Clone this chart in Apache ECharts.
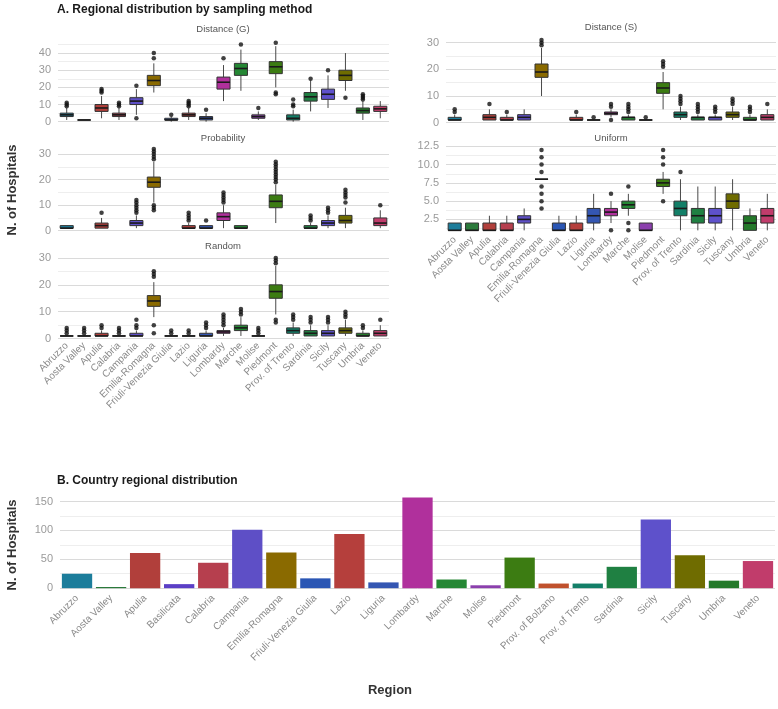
<!DOCTYPE html>
<html>
<head>
<meta charset="utf-8">
<script src="https://cdn.jsdelivr.net/npm/echarts@6/dist/echarts.min.js"></script>
<style>
html,body{margin:0;padding:0;background:#fff;}
#chart{width:778px;height:709px;}
</style>
</head>
<body>
<div id="chart"></div>
<script>
// ---------------- DATA ----------------
const regionsTop = ['Abruzzo','Aosta Valley','Apulia','Calabria','Campania','Emilia-Romagna','Friuli-Venezia Giulia','Lazio','Liguria','Lombardy','Marche','Molise','Piedmont','Prov. of Trento','Sardinia','Sicily','Tuscany','Umbria','Veneto'];
const regionsAll = ['Abruzzo','Aosta Valley','Apulia','Basilicata','Calabria','Campania','Emilia-Romagna','Friuli-Venezia Giulia','Lazio','Liguria','Lombardy','Marche','Molise','Piedmont','Prov. of Bolzano','Prov. of Trento','Sardinia','Sicily','Tuscany','Umbria','Veneto'];

// box stats per region: [min, Q1, median, Q3, max] (null = no data)
const distGStats = [[1,3,4,5,8],[1,1,1,1,1],[2,6,8,10,15],[1,3,4,5,8],[4,10,12,14,19],[17,21,24,27,34],[0,1,1,2,3],[1,3,4,5,8],[0,1,2,3,5],[12,19,23,26,33],[18,27,31,34,42],[1,2,3,4,6],[20,28,32,35,44],[0,1,2,4,7],[6,12,14.5,17,24],[8,13,16,19,27],[18,24,27,30,40],[1,5,6.5,8,12],[2,6,7.5,9,12]];
const distGOut = [[9,10,11],[],[17,18,19],[9,10,11],[2,21],[37,40],[4],[9,10,11,12],[7],[37],[45],[8],[16,17,46],[9,10,13],[25],[30],[14],[13,14,15,16],[]];

const probStats = [[1,1,1,2,2],null,[1,1,2,3,5],null,[1,2,3,4,6],[11,17,19,21,27],null,[1,1,1,2,3],[1,1,1,2,2],[1,4,5.5,7,10],[1,1,1,2,2],null,[3,9,11.5,14,18],null,[1,1,1,2,3],[1,2,3,4,6],[1,3,4,6,9],null,[1,2,3,5,8]];
const probOut = [[],[],[7],[],[7,8,9,10,11,12],[8,9,10,28,29,30,31,32],[],[4,5,6,7],[4],[11,12,13,14,15],[],[],[19,20,21,22,23,24,25,26,27],[],[4,5,6],[7,8,9],[11,13,14,15,16],[],[10]];

const randStats = [[1,1,1,1,1],[1,1,1,1,1],[1,1,1,2,3],[1,1,1,1,1],[1,1,1,2,3],[8,12,14,16,21],[1,1,1,1,1],[1,1,1,1,1],[1,1,1,2,3],[1,2,2.5,3,4],[1,3,4,5,8],[1,1,1,1,1],[9,15,17.5,20,27],[1,2,3,4,6],[1,1,2,3,5],[1,1,2,3,5],[1,2,3,4,7],[1,1,1,2,3],[1,1,2,3,5]];
const randOut = [[2,3,4],[2,3,4],[4,5],[2,3,4],[4,5,7],[2,5,23,24,25],[2,3],[2,3],[4,5,6],[5,6,7,8,9],[9,10,11],[2,3,4],[6,7,28,29,30],[7,8,9],[6,7,8],[6,7,8],[8,9,10],[4,5],[7]];

const distSStats = [[1,1,1,2,3],null,[1,1,2,3,5],[1,1,1,2,3],[1,1,2,3,5],[10,17,19,22,28],null,[1,1,1,2,3],[1,1,1,1,1],[2,3,3.5,4,5],[1,1,2,2,3],[1,1,1,1,1],[5,11,13,15,19],[1,2,3,4,6],[1,1,2,2,3],[1,1,2,2,3],[1,2,3,4,6],[1,1,1,2,3],[1,1,2,3,5]];
const distSOut = [[4,5],[],[7],[4],[],[29,30,31],[],[4],[2],[1,6,7],[4,5,6,7],[2],[21,22,23],[7,8,9,10],[4,5,6,7],[4,5,6],[7,8,9],[4,5,6],[7]];

const unifStats = [[1,1,1,2,2],[1,1,1,2,2],[1,1,1,2,3],[1,1,1,2,3],[1,2,2.5,3,4],[8,8,8,8,8],[1,1,1,2,3],[1,1,1,2,3],[1,2,3,4,6],[2,3,3.5,4,5],[3,4,4.5,5,6],[1,1,1,2,2],[6,7,7.5,8,9],[1,3,4,5,8],[1,2,3,4,7],[1,2,3,4,7],[1,4,5,6,8],[1,1,2,3,4],[1,2,3,4,6]];
const unifOut = [[],[],[],[],[],[4,5,6,7,9,10,11,12],[],[],[],[1,6],[1,2,7],[],[5,10,11,12],[9],[],[],[],[],[]];

const countryValues = [25,2,61,7,44,101,62,17,94,10,157,15,5,53,8,8,37,119,57,13,47];

const panelNames = ['Distance (G)','Probability','Random','Distance (S)','Uniform'];
const yTicksG = [0,10,20,30,40];

// ---------------- STYLE ----------------
const FONT = '"Liberation Sans", Arial, sans-serif';
const regionColors = {
 'Abruzzo':'#1c7d9b','Aosta Valley':'#2b7a3b','Apulia':'#b13f3b','Basilicata':'#5b3fc6','Calabria':'#b63f4e',
 'Campania':'#5e4fc6','Emilia-Romagna':'#8a6a00','Friuli-Venezia Giulia':'#2a56b4','Lazio':'#b53f3c','Liguria':'#3456b2',
 'Lombardy':'#b0309c','Marche':'#258734','Molise':'#8b3fad','Piedmont':'#3c7c12','Prov. of Bolzano':'#c0512d',
 'Prov. of Trento':'#137f68','Sardinia':'#1f8042','Sicily':'#5e51cb','Tuscany':'#6f6c00','Umbria':'#24792a','Veneto':'#c13c6b'
};

function yAx(gridIndex, min, max, major, step, fmt) {
  const n = Math.round(major / step);
  const k0 = ((Math.round(-min / step) % n) + n) % n;
  const colors = [];
  for (let i = 0; i < n; i++) colors.push('rgba(0,0,0,0)');
  colors[k0] = '#dadada';
  colors[(k0 + n / 2) % n] = '#eeeeee';
  return {
    type: 'value', gridIndex, min, max, interval: step,
    axisLine: {show: false}, axisTick: {show: false},
    splitLine: {show: true, showMaxLine: false, lineStyle: {color: colors, width: 1}},
    axisLabel: {color: '#9a9a9a', fontSize: 11, fontFamily: FONT, margin: 7,
      formatter: function (v) { const r = v / major; return Math.abs(r - Math.round(r)) < 1e-6 ? fmt(v) : ''; }}
  };
}
function xAx(gridIndex, cats, showLabels) {
  return {
    type: 'category', gridIndex, data: cats, boundaryGap: true,
    axisLine: {show: false}, axisTick: {show: false}, splitLine: {show: false},
    axisLabel: {show: showLabels, interval: 0, rotate: 45, fontSize: 10, color: '#8a8a8a', fontFamily: FONT, margin: 4}
  };
}
function boxSeries(idx, stats) {
  const data = [];
  stats.forEach(function (s, i) { if (s) data.push([i].concat(s)); });
  return {
    type: 'custom', xAxisIndex: idx, yAxisIndex: idx, data: data, encode: {x: 0, y: [1,2,3,4,5]},
    silent: true,
    renderItem: function (params, api) {
      const ci = api.value(0);
      const col = regionColors[regionsTop[ci]];
      const bw = api.size([1, 0])[0] * 0.75;
      const pMin = api.coord([ci, api.value(1)]);
      const pQ1 = api.coord([ci, api.value(2)]);
      const pMd = api.coord([ci, api.value(3)]);
      const pQ3 = api.coord([ci, api.value(4)]);
      const pMx = api.coord([ci, api.value(5)]);
      const cx = pMin[0];
      const ws = {stroke: '#4a4a4a', lineWidth: 1};
      return {type: 'group', children: [
        {type: 'line', shape: {x1: cx, y1: pMin[1], x2: cx, y2: pQ1[1]}, style: ws},
        {type: 'line', shape: {x1: cx, y1: pQ3[1], x2: cx, y2: pMx[1]}, style: ws},
        {type: 'rect', shape: {x: cx - bw / 2, y: pQ3[1], width: bw, height: Math.max(pQ1[1] - pQ3[1], 0)}, style: {fill: col, stroke: '#333', lineWidth: 1}},
        {type: 'line', shape: {x1: cx - bw / 2, y1: pMd[1], x2: cx + bw / 2, y2: pMd[1]}, style: {stroke: '#1a1a1a', lineWidth: 1.6}}
      ]};
    }
  };
}
function outSeries(idx, outs) {
  const data = [];
  outs.forEach(function (arr, i) { arr.forEach(function (v) { data.push([i, v]); }); });
  return {type: 'scatter', xAxisIndex: idx, yAxisIndex: idx, data: data, symbolSize: 4.5,
    itemStyle: {color: '#111'}, silent: true, z: 5};
}

const fInt = function (v) { return String(Math.round(v)); };
const fDec = function (v) { return v.toFixed(1); };

const grids = [
  {left: 58, width: 331, top: 37, height: 89},
  {left: 58, width: 331, top: 145, height: 87},
  {left: 58, width: 331, top: 254, height: 86},
  {left: 446, width: 330, top: 36, height: 88},
  {left: 446, width: 330, top: 146, height: 88},
  {left: 60, width: 715, top: 493, height: 99.5}
];

const yAxes = [
  yAx(0, -2.5, 49.35, 10, 2.5, fInt),
  yAx(1, -0.5, 33.55, 10, 0.5, fInt),
  yAx(2, -0.5, 31.45, 10, 0.5, fInt),
  yAx(3, -0.5, 32.5, 10, 0.5, fInt),
  yAx(4, 0.5, 12.55, 2.5, 0.25, fDec),
  yAx(5, -7.5, 164.85, 50, 2.5, fInt)
];
const xAxes = [
  xAx(0, regionsTop, false), xAx(1, regionsTop, false), xAx(2, regionsTop, true),
  xAx(3, regionsTop, false), xAx(4, regionsTop, true), xAx(5, regionsAll, true)
];

const series = [
  boxSeries(0, distGStats), outSeries(0, distGOut),
  boxSeries(1, probStats), outSeries(1, probOut),
  boxSeries(2, randStats), outSeries(2, randOut),
  boxSeries(3, distSStats), outSeries(3, distSOut),
  boxSeries(4, unifStats), outSeries(4, unifOut),
  {type: 'bar', xAxisIndex: 5, yAxisIndex: 5, barCategoryGap: '11%', silent: true,
   data: countryValues.map(function (v, i) { return {value: v, itemStyle: {color: regionColors[regionsAll[i]]}}; })}
];

const stripPos = [[223, 29], [223, 138], [223, 246], [611, 27], [611, 138]];
const graphics = [
  {type: 'text', left: 57, top: 4, style: {text: 'A. Regional distribution by sampling method', font: 'bold 12px ' + FONT, fill: '#1a1a1a'}},
  {type: 'text', left: 57, top: 475, style: {text: 'B. Country regional distribution', font: 'bold 12px ' + FONT, fill: '#1a1a1a'}},
  {type: 'text', x: 12, y: 190, rotation: Math.PI / 2, style: {text: 'N. of Hospitals', font: 'bold 13px ' + FONT, fill: '#333', align: 'center', verticalAlign: 'middle'}},
  {type: 'text', x: 12, y: 545, rotation: Math.PI / 2, style: {text: 'N. of Hospitals', font: 'bold 13px ' + FONT, fill: '#333', align: 'center', verticalAlign: 'middle'}},
  {type: 'text', x: 390, y: 690, style: {text: 'Region', font: 'bold 13px ' + FONT, fill: '#333', align: 'center', verticalAlign: 'middle'}}
];
panelNames.forEach(function (n, i) {
  graphics.push({type: 'text', x: stripPos[i][0], y: stripPos[i][1], style: {text: n, font: '9.5px ' + FONT, fill: '#555', align: 'center', verticalAlign: 'middle'}});
});

const chart = echarts.init(document.getElementById('chart'), null, {renderer: 'canvas'});
chart.setOption({
  backgroundColor: '#ffffff',
  animation: false,
  grid: grids,
  xAxis: xAxes,
  yAxis: yAxes,
  series: series,
  graphic: graphics
});
</script>
</body>
</html>
